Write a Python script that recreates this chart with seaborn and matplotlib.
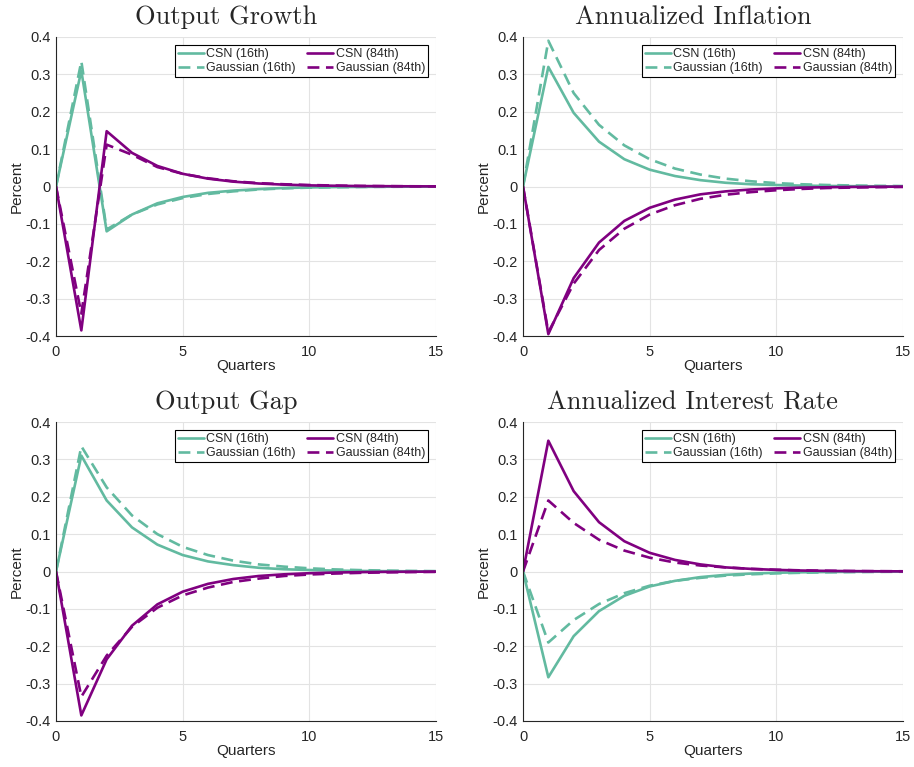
import numpy as np
import pandas as pd
import matplotlib
matplotlib.use("Agg")
import matplotlib.pyplot as plt
import seaborn as sns

quarters = list(range(16))
titles = ["Output Growth", "Annualized Inflation", "Output Gap", "Annualized Interest Rate"]
series_names = ["CSN (16th)", "Gaussian (16th)", "CSN (84th)", "Gaussian (84th)"]

# Output Growth
og_csn16 = [0, 0.31, -0.12, -0.075, -0.045, -0.028, -0.017, -0.011, -0.007, -0.004, -0.0025, -0.0015, -0.001, -0.0006, -0.0004, -0.0002]
og_gau16 = [0, 0.335, -0.115, -0.075, -0.048, -0.031, -0.020, -0.013, -0.008, -0.005, -0.003, -0.002, -0.0012, -0.0008, -0.0005, -0.0003]
og_csn84 = [0, -0.385, 0.148, 0.09, 0.055, 0.034, 0.021, 0.013, 0.008, 0.005, 0.003, 0.002, 0.0012, 0.0008, 0.0005, 0.0003]
og_gau84 = [0, -0.34, 0.112, 0.085, 0.052, 0.034, 0.022, 0.014, 0.009, 0.006, 0.004, 0.0025, 0.0015, 0.001, 0.0006, 0.0004]

# Annualized Inflation
inf_csn16 = [0, 0.32, 0.197, 0.12, 0.073, 0.045, 0.028, 0.017, 0.010, 0.006, 0.004, 0.0024, 0.0015, 0.0009, 0.0005, 0.0003]
inf_gau16 = [0, 0.39, 0.25, 0.165, 0.11, 0.073, 0.048, 0.032, 0.021, 0.014, 0.009, 0.006, 0.004, 0.0027, 0.0018, 0.0012]
inf_csn84 = [0, -0.395, -0.245, -0.15, -0.092, -0.057, -0.035, -0.021, -0.013, -0.008, -0.005, -0.003, -0.002, -0.0012, -0.0007, -0.0004]
inf_gau84 = [0, -0.39, -0.26, -0.17, -0.113, -0.075, -0.050, -0.033, -0.022, -0.015, -0.010, -0.0065, -0.004, -0.0028, -0.0018, -0.0012]

# Output Gap
gap_csn16 = [0, 0.31, 0.19, 0.118, 0.072, 0.044, 0.027, 0.017, 0.010, 0.006, 0.004, 0.0024, 0.0015, 0.0009, 0.0005, 0.0003]
gap_gau16 = [0, 0.335, 0.225, 0.15, 0.10, 0.066, 0.044, 0.029, 0.019, 0.013, 0.0085, 0.0056, 0.0037, 0.0025, 0.0016, 0.001]
gap_csn84 = [0, -0.385, -0.235, -0.145, -0.088, -0.054, -0.033, -0.020, -0.012, -0.0075, -0.0046, -0.0028, -0.0017, -0.001, -0.0006, -0.0004]
gap_gau84 = [0, -0.335, -0.225, -0.148, -0.097, -0.064, -0.043, -0.028, -0.019, -0.012, -0.008, -0.0055, -0.0036, -0.0024, -0.0016, -0.001]

# Annualized Interest Rate
int_csn16 = [0, -0.283, -0.173, -0.106, -0.065, -0.040, -0.025, -0.015, -0.009, -0.0056, -0.0034, -0.0021, -0.0013, -0.0008, -0.0005, -0.0003]
int_gau16 = [0, -0.19, -0.13, -0.087, -0.058, -0.038, -0.025, -0.017, -0.011, -0.0075, -0.005, -0.0033, -0.0022, -0.0015, -0.001, -0.0006]
int_csn84 = [0, 0.35, 0.215, 0.132, 0.081, 0.050, 0.031, 0.019, 0.011, 0.007, 0.0043, 0.0026, 0.0016, 0.001, 0.0006, 0.0004]
int_gau84 = [0, 0.19, 0.13, 0.085, 0.056, 0.037, 0.024, 0.016, 0.011, 0.007, 0.0047, 0.003, 0.002, 0.0013, 0.0009, 0.0006]

panels = [
    [og_csn16, og_gau16, og_csn84, og_gau84],
    [inf_csn16, inf_gau16, inf_csn84, inf_gau84],
    [gap_csn16, gap_gau16, gap_csn84, gap_gau84],
    [int_csn16, int_gau16, int_csn84, int_gau84],
]

yticks = [-0.4, -0.3, -0.2, -0.1, 0, 0.1, 0.2, 0.3, 0.4]
ytick_labels = ["-0.4", "-0.3", "-0.2", "-0.1", "0", "0.1", "0.2", "0.3", "0.4"]
xticks = [0, 5, 10, 15]

sns.set_theme(style="white")
plt.rcParams["font.family"] = ["Liberation Sans", "DejaVu Sans"]

teal = "#62baa0"
purple = "#800080"
colors = [teal, teal, purple, purple]
dashed = [False, True, False, True]

fig = plt.figure(figsize=(9.14, 7.67), dpi=100)
W, H = 914, 767
positions = [
    (56, 37, 380, 299), (523, 37, 380, 299),
    (56, 422, 380, 299), (523, 422, 380, 299),
]

for p, (title, data) in enumerate(zip(titles, panels)):
    x0, y0, w, h = positions[p]
    ax = fig.add_axes([x0 / W, 1 - (y0 + h) / H, w / W, h / H])
    for i, name in enumerate(series_names):
        df = pd.DataFrame({"Quarters": quarters, "Percent": data[i]})
        sns.lineplot(data=df, x="Quarters", y="Percent", ax=ax, color=colors[i],
                     linewidth=1.9, label=name,
                     linestyle=(0, (4.5, 2.5)) if dashed[i] else "-")
    ax.set_xlim(0, 15)
    ax.set_ylim(-0.4, 0.4)
    ax.set_xticks(xticks)
    ax.set_xticklabels([str(t) for t in xticks])
    ax.set_yticks(yticks)
    ax.set_yticklabels(ytick_labels)
    ax.grid(True, color="#e3e3e3", linewidth=0.8)
    ax.set_axisbelow(True)
    for s in ["top", "right"]:
        ax.spines[s].set_visible(False)
    for s in ["left", "bottom"]:
        ax.spines[s].set_color("#262626")
        ax.spines[s].set_linewidth(0.8)
    ax.tick_params(direction="in", length=3, width=0.6, colors="#262626",
                   labelsize=10.5, labelcolor="#262626")
    ax.tick_params(axis="x", pad=6.5)
    ax.tick_params(axis="y", pad=4)
    ax.set_xlabel("Quarters", fontsize=11, color="#262626", labelpad=0)
    ax.set_ylabel("Percent", fontsize=11, color="#262626", labelpad=1)
    ax.set_title(title, fontsize=19, family=["cmr10", "DejaVu Serif"], pad=9, x=0.447)
    leg = ax.legend(ncol=2, loc="upper right", fontsize=9, frameon=True,
                    fancybox=False, edgecolor="black", framealpha=1,
                    borderpad=0.25, handlelength=2.1, handletextpad=0.2,
                    columnspacing=0.9, labelspacing=0.15, borderaxespad=0.3,
                    bbox_to_anchor=(0.99, 0.985))
    leg.get_frame().set_linewidth(0.8)

fig.savefig("out.png", dpi=100)
